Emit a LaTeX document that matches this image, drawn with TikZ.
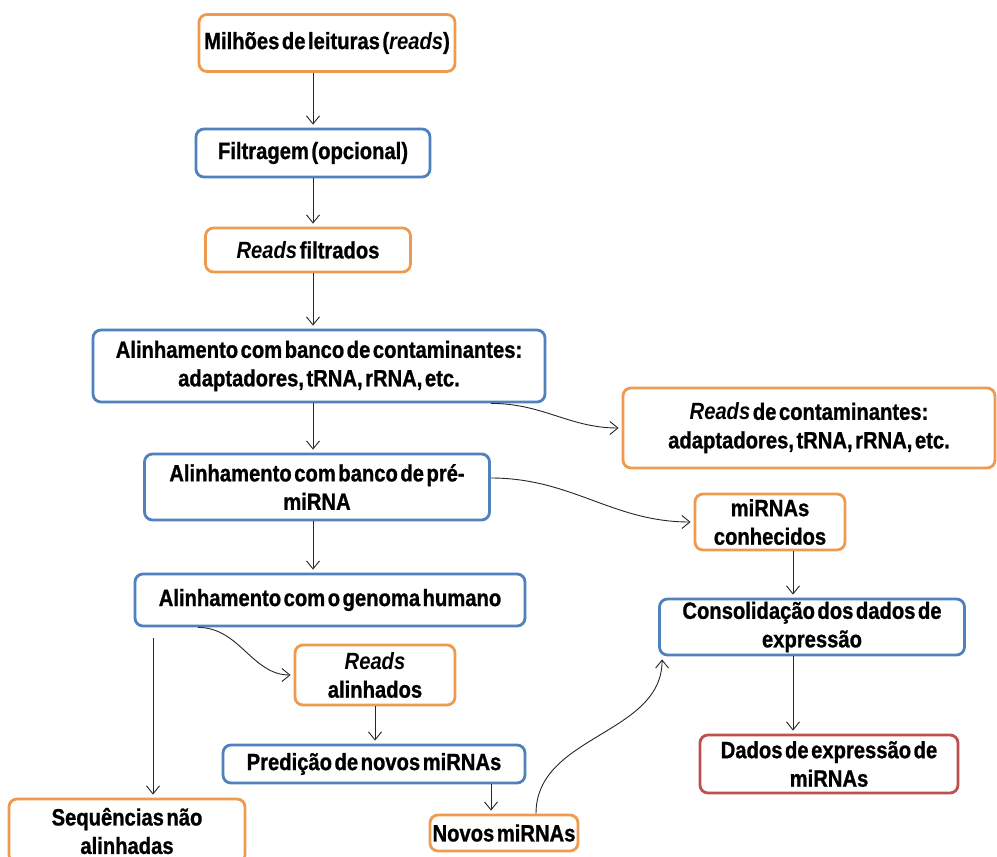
\documentclass[tikz,border=0pt]{standalone}
\usepackage{fontspec}
\setmainfont{Liberation Sans}[FakeStretch=0.86,WordSpace=0.45,BoldFeatures={FakeBold=1}]
\usetikzlibrary{arrows.meta,calc}
\definecolor{laranja}{RGB}{238,155,80}
\definecolor{azul}{RGB}{79,129,189}
\definecolor{vermelho}{RGB}{192,80,77}
\tikzset{
  caixa/.style={draw, line width=2.8pt, rounded corners=8pt, fill=white, align=center,
    inner sep=0pt, font=\fontsize{23.5}{28.5}\selectfont\bfseries},
  laranjabox/.style={caixa, draw=laranja},
  azulbox/.style={caixa, draw=azul},
  vermelhobox/.style={caixa, draw=vermelho},
  seta/.style={draw=black!85, line width=0.9pt, -{Straight Barb[length=8pt,width=13pt]}, shorten >=3pt},
}
\begin{document}
\begin{tikzpicture}[x=1pt,y=-1pt]
        \useasboundingbox[fill=white] (0,0) rectangle (997,857);
        % eixos das setas verticais
        \coordinate (eixo) at (313,0);
        \coordinate (eixodir) at (793,0);
        \coordinate (eixoesq) at (153,0);
        \coordinate (eixonovos) at (491,0);
        % caixas
        \node[laranjabox, minimum width=256pt, minimum height=57pt] (leituras) at (327,43) {Milhões de leituras (\textit{reads})};
        \node[azulbox, minimum width=234pt, minimum height=48pt] (filtragem) at (313,153) {Filtragem (opcional)};
        \node[laranjabox, minimum width=205pt, minimum height=44pt] (filtrados) at (308,250) {\textit{Reads} filtrados};
        \node[azulbox, minimum width=452pt, minimum height=72pt] (contam) at (319,366) {Alinhamento com banco de contaminantes:\\adaptadores, tRNA, rRNA, etc.};
        \node[laranjabox, minimum width=372pt, minimum height=80pt] (readscont) at (809,428) {\textit{Reads} de contaminantes:\\adaptadores, tRNA, rRNA, etc.};
        \node[azulbox, minimum width=345pt, minimum height=66pt] (premirna) at (317,487) {Alinhamento com banco de pré-\\miRNA};
        \node[laranjabox, minimum width=150pt, minimum height=56pt] (conhecidos) at (770,522) {miRNAs\\conhecidos};
        \node[azulbox, minimum width=305pt, minimum height=56pt] (consolida) at (812,627) {Consolidação dos dados de\\expressão};
        \node[vermelhobox, minimum width=258pt, minimum height=58pt] (dados) at (829,764) {Dados de expressão de\\miRNAs};
        \node[azulbox, minimum width=390pt, minimum height=52pt] (genoma) at (330,600) {Alinhamento com o genoma humano};
        \node[laranjabox, minimum width=236pt, minimum height=64pt] (naoalinh) at (127,831) {Sequências não\\alinhadas};
        \node[laranjabox, minimum width=160pt, minimum height=60pt] (alinhados) at (375,675) {\textit{Reads}\\alinhados};
        \node[azulbox, minimum width=302pt, minimum height=38pt] (predicao) at (374,764) {Predição de novos miRNAs};
        \node[laranjabox, minimum width=148pt, minimum height=36pt] (novos) at (504,833) {Novos miRNAs};
        % setas
        \draw[seta] (leituras.south -| eixo) -- (filtragem.north);
        \draw[seta] (filtragem.south) -- (filtrados.north -| eixo);
        \draw[seta] (filtrados.south -| eixo) -- (contam.north -| eixo);
        \draw[seta] (contam.south -| eixo) -- (premirna.north -| eixo);
        \draw[seta] (premirna.south -| eixo) -- (genoma.north -| eixo);
        \draw[seta] ($(contam.south)+(172,0)$) to[out=0,in=180] (readscont.west);
        \draw[seta] ([yshift=9pt]premirna.east) to[out=0,in=180] (conhecidos.west);
        \draw[seta] (conhecidos.south -| eixodir) -- (consolida.north -| eixodir);
        \draw[seta] (consolida.south -| eixodir) -- (dados.north -| eixodir);
        \draw[seta, shorten <=11pt] (genoma.south -| eixoesq) -- (naoalinh.north -| eixoesq);
        \draw[seta] ($(genoma.south)+(-132,0)$) to[out=0,in=180] (alinhados.west);
        \draw[seta] (alinhados.south) -- (predicao.north -| alinhados.south);
        \draw[seta] (predicao.south -| eixonovos) -- (novos.north -| eixonovos);
        \draw[seta] ($(novos.north)+(32,0)$) to[out=90,in=-90] ($(consolida.south west)+(4,0)$);
\end{tikzpicture}
\end{document}
